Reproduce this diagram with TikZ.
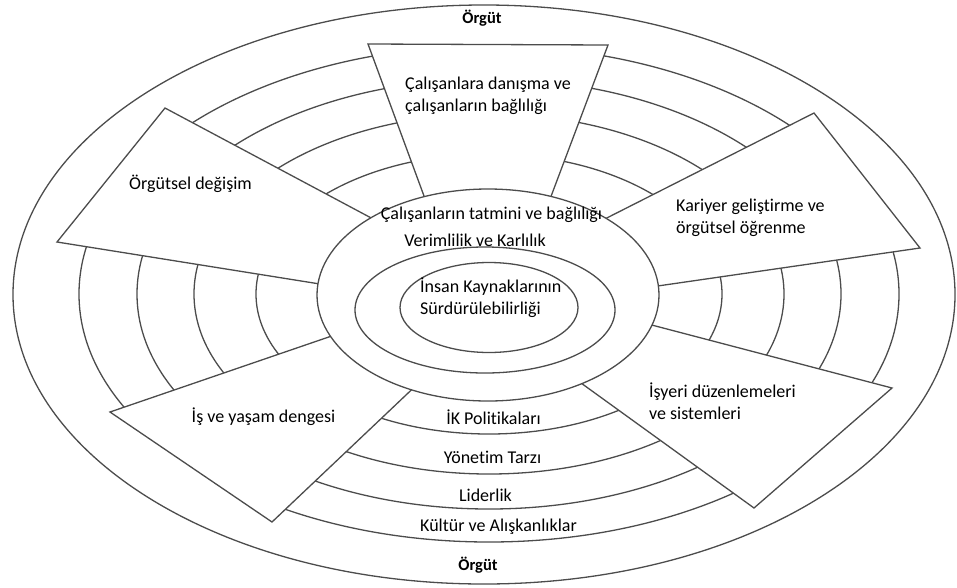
\documentclass[tikz,border=0pt]{standalone}
\usepackage{fontspec}
\setmainfont{Carlito}[Ligatures={NoCommon}]
\tikzstyle{texto}=[inner sep=0pt,font=\fontsize{18}{22}\selectfont]
\tikzstyle{linea}=[draw=black!70,line width=1.3pt]
\tikzstyle{campo}=[linea,fill=white,line join=miter]

\begin{document}
\begin{tikzpicture}[x=1pt,y=-1pt]
    \useasboundingbox (0,0) rectangle (957,587);
    % anillos
    \draw [linea] (484,294.5) ellipse [x radius=471pt, y radius=289.5pt];
    \foreach \rx/\ry in {410/248,352/215,295/180,233/140}
        \draw [linea] (489,294) ellipse [x radius=\rx pt, y radius=\ry pt];
    % campos
    \filldraw [campo] (368,44) -- (608,45) -- (544,215) -- (431,215) -- cycle;
    \filldraw [campo] (57,242) -- (165,108) -- (390,228) -- (345,288) -- cycle;
    \filldraw [campo] (587,228) -- (814,113) -- (920,248) -- (630,290) -- cycle;
    \filldraw [campo] (625,318) -- (892,388) -- (754,508) -- (563,370) -- cycle;
    \filldraw [campo] (355,328) -- (110,412) -- (272,522) -- (425,377) -- cycle;
    % centro
    \filldraw [campo] (488,295) ellipse [x radius=171pt, y radius=106pt];
    \draw [linea] (485,310) ellipse [x radius=130pt, y radius=63pt];
    \draw [linea] (489,307.5) ellipse [x radius=89pt, y radius=45pt];
    \node [texto,font=\fontsize{16.5}{18}\bfseries] (org1) at (482,18) {Örgüt};
    \node [texto,font=\fontsize{16.5}{18}\bfseries] (org2) at (478,565) {Örgüt};
    \node [texto,anchor=west,align=left] (dan) at (405,96) {Çalışanlara danışma ve\\çalışanların bağlılığı};
    \node [texto] (deg) at (190.5,184) {Örgütsel değişim};
    \node [texto,anchor=west,align=left] (kar) at (676,217.5) {Kariyer geliştirme ve\\örgütsel öğrenme};
    \node [texto,anchor=west,align=left] (isy) at (649,401.5) {İşyeri düzenlemeleri\\ve sistemleri};
    \node [texto] (den) at (263.5,417) {İş ve yaşam dengesi};
    \node [texto] (tat) at (491.5,215) {Çalışanların tatmini ve bağlılığı};
    \node [texto] (ver) at (475,240) {Verimlilik ve Karlılık};
    \node [texto,anchor=west,align=left] (ik) at (420,297.5) {İnsan Kaynaklarının\\Sürdürülebilirliği};
    \node [texto] (pol) at (493.5,417) {İK Politikaları};
    \node [texto] (yon) at (492.5,457) {Yönetim Tarzı};
    \node [texto] (lid) at (485.5,495) {Liderlik};
    \node [texto] (kul) at (498.5,527) {Kültür ve Alışkanlıklar};
\end{tikzpicture}
\end{document}
